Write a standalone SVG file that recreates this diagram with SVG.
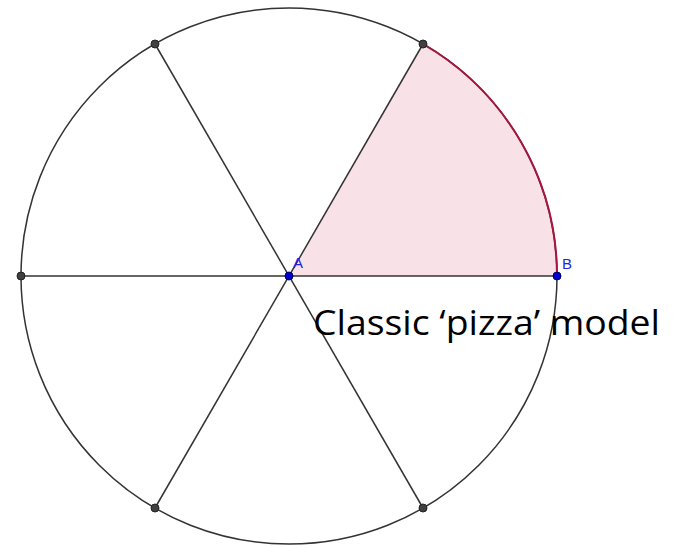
<svg xmlns="http://www.w3.org/2000/svg" width="676" height="546" viewBox="0 0 676 546">
<style>
.ln{stroke:#333;stroke-width:1.5;fill:none}
.pt{fill:#404040;stroke:#222;stroke-width:1}
.bp{fill:#0000cc;stroke:#000066;stroke-width:1}
.lb{font-family:"Liberation Sans",Arial,sans-serif;font-size:15px;fill:#2222ee}
</style>
<rect width="676" height="546" fill="#fff"/>
<g id="sector-fill">
<path d="M289,276 L423,44 A268,268 0 0 1 557,276 Z" fill="#f9e2e7"/>
</g>
<g id="connectors">
<circle class="ln" cx="289" cy="276" r="268"/>
<line class="ln" x1="155" y1="44" x2="423" y2="508"/>
<line class="ln" x1="423" y1="44" x2="155" y2="508" stroke="#3a2a2a"/>
<line class="ln" x1="21" y1="276" x2="557" y2="276"/>
</g>
<g id="sector-arc">
<path d="M423,44 A268,268 0 0 1 557,276" fill="none" stroke="#a8163f" stroke-width="2"/>
</g>
<g id="points">
<circle class="pt" cx="155" cy="44" r="4"/>
<circle class="pt" cx="423" cy="44" r="4"/>
<circle class="pt" cx="21" cy="276" r="4"/>
<circle class="pt" cx="155" cy="508" r="4"/>
<circle class="pt" cx="423" cy="508" r="4"/>
</g>
<g id="A">
<circle class="bp" cx="289" cy="276" r="4"/>
<text class="lb" x="293" y="268">A</text>
</g>
<g id="B">
<circle class="bp" cx="557" cy="276" r="4"/>
<text class="lb" x="562" y="269">B</text>
</g>
<g id="caption">
<text x="313" y="335" font-family="'Open Sans','Liberation Sans',sans-serif" font-size="34" textLength="347" lengthAdjust="spacingAndGlyphs" fill="#000">Classic ‘pizza’ model</text>
</g>
</svg>
